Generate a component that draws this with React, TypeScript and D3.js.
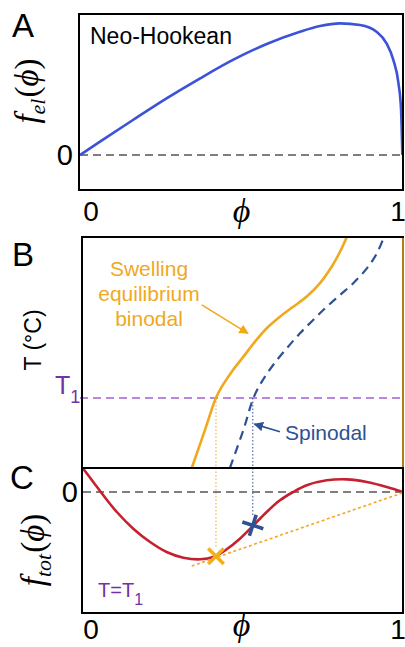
import { useEffect, useRef } from "react";
import * as d3 from "d3";

// Panel A: neo-Hookean elastic free energy
const PHI_A = [0, 0.062, 0.165, 0.268, 0.372, 0.475, 0.578, 0.681, 0.743, 0.805, 0.867, 0.918, 0.949, 0.97, 0.986, 0.994, 0.998];
const FEL = [0, 0.101, 0.267, 0.429, 0.581, 0.722, 0.841, 0.934, 0.977, 0.997, 0.985, 0.934, 0.846, 0.72, 0.543, 0.341, 0];

// Panel B: binodal and spinodal (phi vs T)
const PHI_BIN = [0.346, 0.387, 0.421, 0.439, 0.47, 0.506, 0.542, 0.578, 0.619, 0.66, 0.702, 0.743, 0.779, 0.805, 0.826];
const T_BIN = [0, 0.165, 0.304, 0.352, 0.417, 0.482, 0.547, 0.605, 0.655, 0.698, 0.742, 0.8, 0.871, 0.936, 1.0];
const PHI_SPIN = [0.464, 0.506, 0.537, 0.563, 0.598, 0.64, 0.681, 0.722, 0.764, 0.805, 0.846, 0.888, 0.919, 0.941];
const T_SPIN = [0, 0.165, 0.303, 0.374, 0.446, 0.518, 0.583, 0.641, 0.698, 0.749, 0.8, 0.864, 0.929, 1.0];
const T1 = 0.303;

// Panel C: total free energy at T1
const PHI_TOT = [0.01, 0.041, 0.072, 0.114, 0.165, 0.217, 0.268, 0.32, 0.372, 0.413, 0.454, 0.495, 0.537, 0.578, 0.619, 0.66, 0.702, 0.764, 0.826, 0.888, 0.95, 1.0];
const F_TOT = [0.353, 0.152, -0.05, -0.303, -0.556, -0.758, -0.909, -0.995, -1.02, -0.985, -0.868, -0.708, -0.505, -0.303, -0.126, 0, 0.102, 0.177, 0.192, 0.152, 0.076, 0];
const TANGENT_PHI = [0.346, 1.0];
const TANGENT_F = [-1.121, -0.01];
const MARK_BIN = { phi: 0.421, f: -0.974 };
const MARK_SPIN = { phi: 0.535, f: -0.505 };

const X_TICKS = [0, 1];

const ORANGE = "#F0A91E";
const NAVY = "#2D5193";
const PURPLE = "#7431A3";
const SANS = "Liberation Sans, Arial, sans-serif";
const SERIF = "Liberation Serif, DejaVu Serif, serif";

export default function App() {
  const svgRef = useRef<SVGSVGElement | null>(null);

  useEffect(() => {
    if (!svgRef.current) return;
    const width = 405;
    const height = 647;
    const svg = d3.select(svgRef.current);
    svg.selectAll("*").remove();
    svg.attr("width", width).attr("height", height);

    const x = d3.scaleLinear().domain([0, 1]).range([80, 403]);
    const yA = d3.scaleLinear().domain([0, 1]).range([155, 23]);
    const yB = d3.scaleLinear().domain([0, 1]).range([468, 237]);
    const yC = d3.scaleLinear().domain([0, -1]).range([492, 558]);

    const box = (x0: number, y0: number, x1: number, y1: number) =>
      svg.append("rect").attr("x", x0).attr("y", y0).attr("width", x1 - x0).attr("height", y1 - y0)
        .attr("fill", "none").attr("stroke", "#000").attr("stroke-width", 2);

    const label = (t: string, lx: number, ly: number) =>
      svg.append("text").attr("x", lx).attr("y", ly).attr("font-family", SANS).attr("font-size", 33).text(t);

    const mathLabel = (cx: number, cy: number, sub: string) => {
      const t = svg.append("text")
        .attr("font-family", SERIF).attr("font-size", 33).attr("text-anchor", "middle")
        .attr("transform", `translate(${cx},${cy}) rotate(-90)`);
      t.append("tspan").attr("font-style", "italic").text("f");
      t.append("tspan").attr("font-style", "italic").attr("font-size", 22).attr("dy", 7).text(sub);
      t.append("tspan").attr("dy", -7).attr("dx", 1).text("(");
      t.append("tspan").attr("font-style", "italic").text("ϕ");
      t.append("tspan").text(")");
    };

    const xTicks = (baseline: number, phiY: number) => {
      svg.selectAll(null).data(X_TICKS).enter().append("text")
        .attr("x", d => x(d) + (d === 0 ? 11 : -5)).attr("y", baseline)
        .attr("text-anchor", "middle").attr("font-family", SANS).attr("font-size", 28)
        .text(d => String(d));
      svg.append("text").attr("x", x(0.5)).attr("y", phiY).attr("text-anchor", "middle")
        .attr("font-family", SERIF).attr("font-style", "italic").attr("font-size", 34).text("ϕ");
    };

    const dashedZero = (y: number, x0: number) =>
      svg.append("line").attr("x1", x0).attr("x2", x(1)).attr("y1", y).attr("y2", y)
        .attr("stroke", "#555").attr("stroke-width", 1.3).attr("stroke-dasharray", "8,5");

    // ----- Panel A -----
    dashedZero(yA(0), 80);
    const lineA = d3.line<number>().x((_, i) => x(PHI_A[i])).y(d => yA(d)).curve(d3.curveMonotoneX);
    svg.append("path").datum(FEL).attr("d", lineA).attr("fill", "none")
      .attr("stroke", "#3B52D9").attr("stroke-width", 2.6);
    box(79, 14, 403, 190);
    label("A", 12, 37);
    svg.append("text").attr("x", 90).attr("y", 44).attr("font-family", SANS).attr("font-size", 23).text("Neo-Hookean");
    svg.append("text").attr("x", 73).attr("y", yA(0) + 10).attr("text-anchor", "end")
      .attr("font-family", SANS).attr("font-size", 29).text("0");
    mathLabel(38, 91, "el");
    xTicks(221, 222);

    // ----- Panel B -----
    svg.append("line").attr("x1", x(0)).attr("x2", x(1)).attr("y1", yB(T1)).attr("y2", yB(T1))
      .attr("stroke", "#A45FD6").attr("stroke-width", 1.3).attr("stroke-dasharray", "8,5");

    const lineB = (phis: number[]) =>
      d3.line<number>().x((_, i) => x(phis[i])).y(d => yB(d)).curve(d3.curveCatmullRom.alpha(0.5));
    svg.append("path").datum(T_BIN).attr("d", lineB(PHI_BIN)).attr("fill", "none")
      .attr("stroke", ORANGE).attr("stroke-width", 2.6);
    svg.append("path").datum(T_SPIN).attr("d", lineB(PHI_SPIN)).attr("fill", "none")
      .attr("stroke", NAVY).attr("stroke-width", 2.2).attr("stroke-dasharray", "9,6");

    // dotted verticals from T1 down to the markers in C
    svg.append("line").attr("x1", x(MARK_BIN.phi)).attr("x2", x(MARK_BIN.phi))
      .attr("y1", yB(T1)).attr("y2", yC(MARK_BIN.f) - 8)
      .attr("stroke", ORANGE).attr("stroke-width", 1).attr("stroke-dasharray", "1.5,2");
    svg.append("line").attr("x1", x(MARK_SPIN.phi)).attr("x2", x(MARK_SPIN.phi))
      .attr("y1", yB(T1)).attr("y2", yC(MARK_SPIN.f) - 9)
      .attr("stroke", NAVY).attr("stroke-width", 1).attr("stroke-dasharray", "1.5,2");

    // arrows
    const defs = svg.append("defs");
    const marker = (id: string, color: string) =>
      defs.append("marker").attr("id", id).attr("viewBox", "0 0 10 10").attr("refX", 9).attr("refY", 5)
        .attr("markerWidth", 6).attr("markerHeight", 6).attr("orient", "auto")
        .append("path").attr("d", "M0,0 L10,5 L0,10 Z").attr("fill", color);
    marker("arrO", ORANGE);
    marker("arrB", NAVY);
    svg.append("line").attr("x1", x(0.377)).attr("y1", yB(0.706)).attr("x2", x(0.52)).attr("y2", yB(0.583))
      .attr("stroke", ORANGE).attr("stroke-width", 1.6).attr("marker-end", "url(#arrO)");
    svg.append("line").attr("x1", x(0.619)).attr("y1", yB(0.157)).attr("x2", x(0.54)).attr("y2", yB(0.19))
      .attr("stroke", NAVY).attr("stroke-width", 1.6).attr("marker-end", "url(#arrB)");

    const swell = svg.append("text").attr("font-family", SANS).attr("font-size", 21)
      .attr("fill", ORANGE).attr("text-anchor", "middle");
    ["Swelling", "equilibrium", "binodal"].forEach((s, i) =>
      swell.append("tspan").attr("x", 149).attr("y", 276 + i * 25).text(s));
    svg.append("text").attr("x", 285).attr("y", 440).attr("font-family", SANS).attr("font-size", 21)
      .attr("fill", NAVY).text("Spinodal");

    svg.append("rect").attr("x", 82).attr("y", 237).attr("width", 321).attr("height", 231)
      .attr("fill", "none").attr("stroke", "#000").attr("stroke-width", 2);
    svg.append("line").attr("x1", 403).attr("x2", 403).attr("y1", 238).attr("y2", 467)
      .attr("stroke", ORANGE).attr("stroke-width", 1.5);
    label("B", 12, 266);
    svg.append("text").attr("transform", "translate(41,340) rotate(-90)").attr("text-anchor", "middle")
      .attr("font-family", SANS).attr("font-size", 23).text("T (°C)");
    const t1 = svg.append("text").attr("x", 55).attr("y", 394).attr("font-family", SANS)
      .attr("font-size", 25).attr("fill", PURPLE);
    t1.append("tspan").text("T");
    t1.append("tspan").attr("font-size", 18).attr("dy", 9).text("1");

    // ----- Panel C -----
    dashedZero(yC(0), 83);
    const lineC = d3.line<number>().x((_, i) => x(PHI_TOT[i])).y(d => yC(d)).curve(d3.curveCatmullRom.alpha(0.5));
    svg.append("path").datum(F_TOT).attr("d", lineC).attr("fill", "none")
      .attr("stroke", "#C62030").attr("stroke-width", 2.6);
    const tangent = d3.line<number>().x((_, i) => x(TANGENT_PHI[i])).y(d => yC(d));
    svg.append("path").datum(TANGENT_F).attr("d", tangent).attr("fill", "none")
      .attr("stroke", "#F5A623").attr("stroke-width", 1.6).attr("stroke-dasharray", "3,2.5");

    const cross = (cx: number, cy: number, angle: number, color: string, arm: number) => {
      const g = svg.append("g").attr("transform", `translate(${cx},${cy}) rotate(${angle})`);
      [[-arm, 0, arm, 0], [0, -arm, 0, arm]].forEach(([a, b, c, d]) =>
        g.append("line").attr("x1", a).attr("y1", b).attr("x2", c).attr("y2", d)
          .attr("stroke", color).attr("stroke-width", 3.6));
    };
    cross(x(MARK_BIN.phi), yC(MARK_BIN.f), 45, "#F0B01E", 11);
    cross(x(MARK_SPIN.phi), yC(MARK_SPIN.f), 18, NAVY, 11);

    svg.append("rect").attr("x", 82).attr("y", 468).attr("width", 321).attr("height", 145)
      .attr("fill", "none").attr("stroke", "#000").attr("stroke-width", 2);
    label("C", 10, 489);
    svg.append("text").attr("x", 78).attr("y", yC(0) + 10).attr("text-anchor", "end")
      .attr("font-family", SANS).attr("font-size", 29).text("0");
    mathLabel(44, 550, "tot");
    const tt = svg.append("text").attr("x", 98).attr("y", 597).attr("font-family", SANS)
      .attr("font-size", 20).attr("fill", PURPLE);
    tt.append("tspan").text("T=T");
    tt.append("tspan").attr("font-size", 16).attr("dy", 8).text("1");
    xTicks(639, 636);
  }, []);

  return <svg ref={svgRef} style={{ position: "absolute", left: 0, top: 0, display: "block" }} />;
}
